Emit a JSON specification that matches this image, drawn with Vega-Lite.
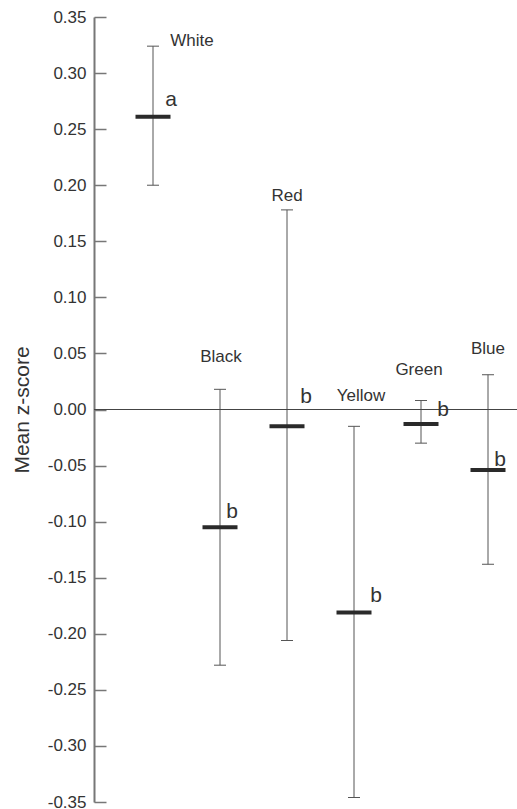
{
  "$schema": "https://vega.github.io/schema/vega-lite/v6.json",
  "width": 423,
  "height": 785,
  "autosize": "none",
  "padding": {"left": 94, "top": 17, "right": 0, "bottom": 7},
  "config": {"view": {"stroke": null}, "font": "Liberation Sans"},
  "data": {"values": [
    {"color": "White", "mean": 0.261, "lower": 0.200, "upper": 0.324, "group": "a"},
    {"color": "Black", "mean": -0.105, "lower": -0.228, "upper": 0.018, "group": "b"},
    {"color": "Red", "mean": -0.015, "lower": -0.206, "upper": 0.178, "group": "b"},
    {"color": "Yellow", "mean": -0.181, "lower": -0.346, "upper": -0.015, "group": "b"},
    {"color": "Green", "mean": -0.013, "lower": -0.030, "upper": 0.008, "group": "b"},
    {"color": "Blue", "mean": -0.054, "lower": -0.138, "upper": 0.031, "group": "b"}
  ]},
  "encoding": {
    "x": {"field": "color", "type": "nominal", "sort": null, "scale": {"type": "point", "range": [59, 394], "padding": 0}, "axis": null}
  },
  "layer": [
    {
      "mark": {"type": "rule", "color": "#555", "strokeWidth": 1},
      "encoding": {
        "y": {
          "field": "lower", "type": "quantitative",
          "scale": {"domain": [-0.35, 0.35], "nice": false, "zero": false},
          "axis": {
            "values": [-0.35, -0.3, -0.25, -0.2, -0.15, -0.1, -0.05, 0, 0.05, 0.1, 0.15, 0.2, 0.25, 0.3, 0.35],
            "labelExpr": "replace(format(datum.value, '.2f'), '\u2212', '-')",
            "grid": false,
            "tickSize": -12,
            "labelPadding": 20,
            "domainColor": "#777",
            "domainWidth": 2,
            "tickColor": "#777",
            "tickWidth": 1.5,
            "labelFontSize": 17,
            "labelColor": "#333",
            "title": "Mean z-score",
            "titleFontSize": 21,
            "titleFontWeight": "normal",
            "titleColor": "#333",
            "titleX": -62
          }
        },
        "y2": {"field": "upper"}
      }
    },
    {
      "mark": {"type": "rule", "color": "#444", "strokeWidth": 1},
      "encoding": {"x": {"value": 0}, "x2": {"value": 423}, "y": {"datum": 0, "type": "quantitative"}}
    },
    {
      "mark": {"type": "tick", "color": "#555", "size": 12, "thickness": 1, "opacity": 1},
      "encoding": {"y": {"field": "upper", "type": "quantitative"}}
    },
    {
      "mark": {"type": "tick", "color": "#555", "size": 12, "thickness": 1, "opacity": 1},
      "encoding": {"y": {"field": "lower", "type": "quantitative"}}
    },
    {
      "mark": {"type": "tick", "color": "#2a2a2a", "size": 35, "thickness": 4, "opacity": 1},
      "encoding": {"y": {"field": "mean", "type": "quantitative"}}
    },
    {"transform": [{"filter": "datum.color === 'White'"}], "mark": {"type": "text", "dx": 39, "dy": 0, "baseline": "alphabetic", "fontSize": 17, "color": "#333"}, "encoding": {"y": {"field": "upper", "type": "quantitative"}, "text": {"field": "color"}}},
    {"transform": [{"filter": "datum.color === 'Black'"}], "mark": {"type": "text", "dx": 1, "dy": -27, "baseline": "alphabetic", "fontSize": 17, "color": "#333"}, "encoding": {"y": {"field": "upper", "type": "quantitative"}, "text": {"field": "color"}}},
    {"transform": [{"filter": "datum.color === 'Red'"}], "mark": {"type": "text", "dx": 0, "dy": -9, "baseline": "alphabetic", "fontSize": 17, "color": "#333"}, "encoding": {"y": {"field": "upper", "type": "quantitative"}, "text": {"field": "color"}}},
    {"transform": [{"filter": "datum.color === 'Yellow'"}], "mark": {"type": "text", "dx": 7, "dy": -25, "baseline": "alphabetic", "fontSize": 17, "color": "#333"}, "encoding": {"y": {"field": "upper", "type": "quantitative"}, "text": {"field": "color"}}},
    {"transform": [{"filter": "datum.color === 'Green'"}], "mark": {"type": "text", "dx": -2, "dy": -26, "baseline": "alphabetic", "fontSize": 17, "color": "#333"}, "encoding": {"y": {"field": "upper", "type": "quantitative"}, "text": {"field": "color"}}},
    {"transform": [{"filter": "datum.color === 'Blue'"}], "mark": {"type": "text", "dx": 0, "dy": -21, "baseline": "alphabetic", "fontSize": 17, "color": "#333"}, "encoding": {"y": {"field": "upper", "type": "quantitative"}, "text": {"field": "color"}}},
    {"transform": [{"filter": "datum.color === 'White'"}], "mark": {"type": "text", "dx": 18, "dy": -11, "baseline": "alphabetic", "fontSize": 21, "color": "#333"}, "encoding": {"y": {"field": "mean", "type": "quantitative"}, "text": {"field": "group"}}},
    {"transform": [{"filter": "datum.color === 'Black'"}], "mark": {"type": "text", "dx": 12, "dy": -9, "baseline": "alphabetic", "fontSize": 21, "color": "#333"}, "encoding": {"y": {"field": "mean", "type": "quantitative"}, "text": {"field": "group"}}},
    {"transform": [{"filter": "datum.color === 'Red'"}], "mark": {"type": "text", "dx": 19, "dy": -23, "baseline": "alphabetic", "fontSize": 21, "color": "#333"}, "encoding": {"y": {"field": "mean", "type": "quantitative"}, "text": {"field": "group"}}},
    {"transform": [{"filter": "datum.color === 'Yellow'"}], "mark": {"type": "text", "dx": 22, "dy": -10, "baseline": "alphabetic", "fontSize": 21, "color": "#333"}, "encoding": {"y": {"field": "mean", "type": "quantitative"}, "text": {"field": "group"}}},
    {"transform": [{"filter": "datum.color === 'Green'"}], "mark": {"type": "text", "dx": 22, "dy": -8, "baseline": "alphabetic", "fontSize": 21, "color": "#333"}, "encoding": {"y": {"field": "mean", "type": "quantitative"}, "text": {"field": "group"}}},
    {"transform": [{"filter": "datum.color === 'Blue'"}], "mark": {"type": "text", "dx": 12, "dy": -4, "baseline": "alphabetic", "fontSize": 21, "color": "#333"}, "encoding": {"y": {"field": "mean", "type": "quantitative"}, "text": {"field": "group"}}}
  ]
}
